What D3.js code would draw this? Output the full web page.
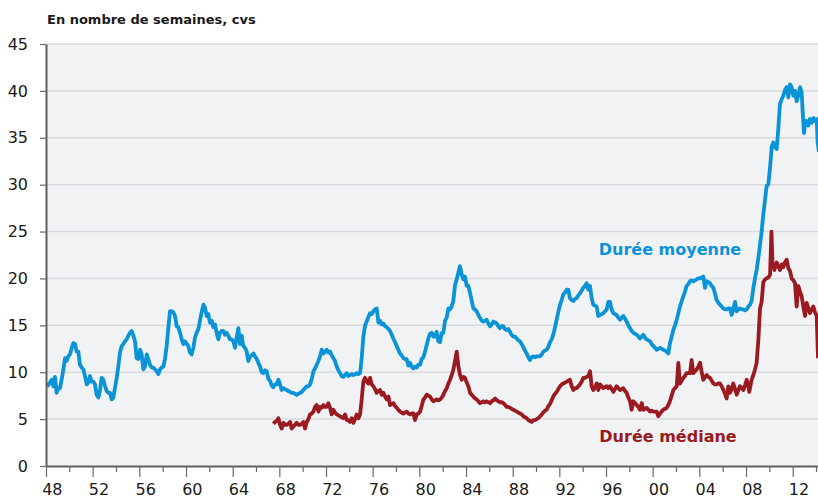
<!DOCTYPE html>
<html><head><meta charset="utf-8">
<script src="https://cdn.jsdelivr.net/npm/d3@7"></script>
<style>body{margin:0;background:#fff}svg{display:block}</style>
</head><body>
<svg id="chart" width="818" height="501"></svg>
<script>
const titleText = "En nombre de semaines, cvs";
const yTickValues = [0,5,10,15,20,25,30,35,40,45];
const xTickYears = d3.range(1948, 2015, 2);
const xLabelYears = d3.range(1948, 2013, 4);
const meanLabel = "Durée moyenne";
const medianLabel = "Durée médiane";

// Durée moyenne (weeks) [decimal year, value]
const meanData = [
[1948.00,8.7],[1948.17,8.6],[1948.34,8.9],[1948.49,9.2],[1948.63,8.5],[1948.77,9.5],[1948.91,7.8],
[1949.06,8.3],[1949.20,8.3],[1949.34,9.2],[1949.49,10.3],[1949.63,11.5],[1949.77,11.2],[1949.91,11.7],
[1950.06,11.9],[1950.20,12.6],[1950.34,13.1],[1950.49,13.0],[1950.63,12.2],[1950.77,12.2],[1950.91,10.8],
[1951.06,10.5],[1951.20,10.3],[1951.34,9.6],[1951.49,8.7],[1951.63,8.9],[1951.77,9.6],[1951.91,9.0],
[1952.06,9.0],[1952.20,8.7],[1952.34,7.6],[1952.49,7.3],[1952.63,8.1],[1952.77,9.4],[1952.91,9.2],
[1953.06,8.5],[1953.20,8.0],[1953.34,7.8],[1953.49,7.8],[1953.63,7.1],[1953.77,7.3],[1953.91,8.3],
[1954.06,9.4],[1954.20,10.6],[1954.34,12.1],[1954.49,12.8],[1954.63,13.0],[1954.77,13.3],[1954.91,13.5],
[1955.06,13.9],[1955.20,14.2],[1955.34,14.4],[1955.49,13.9],[1955.63,13.3],[1955.77,11.5],[1955.91,11.4],
[1956.06,12.4],[1956.20,11.9],[1956.34,10.3],[1956.49,10.6],[1956.63,11.9],[1956.77,11.4],[1956.91,10.8],
[1957.06,10.5],[1957.20,10.5],[1957.34,10.3],[1957.49,10.1],[1957.63,9.8],[1957.77,10.3],[1957.91,10.5],
[1958.06,10.6],[1958.20,11.4],[1958.34,12.8],[1958.49,14.8],[1958.63,16.5],[1958.77,16.5],[1958.91,16.4],
[1959.06,16.0],[1959.20,14.9],[1959.34,14.8],[1959.49,14.2],[1959.63,13.5],[1959.77,13.0],[1959.91,13.3],
[1960.06,13.0],[1960.20,12.8],[1960.34,12.1],[1960.49,11.9],[1960.63,12.6],[1960.77,13.7],[1960.91,14.2],
[1961.06,14.6],[1961.20,15.5],[1961.34,16.4],[1961.49,17.2],[1961.63,16.9],[1961.77,16.0],[1961.91,16.2],
[1962.06,15.3],[1962.20,15.5],[1962.34,14.8],[1962.49,15.1],[1962.63,14.2],[1962.77,13.5],[1962.91,14.2],
[1963.06,14.4],[1963.20,14.4],[1963.34,14.0],[1963.49,14.2],[1963.63,13.9],[1963.77,13.5],[1963.91,13.5],
[1964.06,13.3],[1964.20,12.6],[1964.34,13.7],[1964.49,14.7],[1964.63,13.0],[1964.77,13.9],[1964.91,12.8],
[1965.06,12.6],[1965.20,12.2],[1965.34,11.2],[1965.49,11.7],[1965.63,11.8],[1965.78,12.0],[1965.91,11.7],
[1966.06,11.4],[1966.20,11.0],[1966.35,10.6],[1966.49,10.0],[1966.63,9.9],[1966.77,10.2],[1966.92,10.1],
[1967.06,9.3],[1967.20,9.1],[1967.34,8.6],[1967.49,8.4],[1967.63,8.7],[1967.78,8.7],[1967.92,9.2],
[1968.06,8.7],[1968.20,8.1],[1968.35,8.3],[1968.49,8.2],[1968.63,8.1],[1968.78,8.0],[1968.92,7.9],
[1969.06,7.8],[1969.20,7.8],[1969.35,7.7],[1969.49,7.6],[1969.63,7.7],[1969.78,7.8],[1969.92,7.9],
[1970.06,8.1],[1970.20,8.3],[1970.35,8.5],[1970.49,8.5],[1970.63,8.7],[1970.78,9.3],[1970.92,10.1],
[1971.06,10.4],[1971.20,10.8],[1971.35,11.2],[1971.49,11.7],[1971.63,12.4],[1971.78,12.0],[1971.92,12.2],
[1972.06,12.4],[1972.20,12.1],[1972.35,12.2],[1972.49,11.8],[1972.63,11.5],[1972.77,11.2],[1972.92,10.6],
[1973.06,10.2],[1973.20,9.9],[1973.34,9.6],[1973.49,9.5],[1973.63,9.7],[1973.78,9.9],[1973.92,9.6],
[1974.06,9.7],[1974.20,9.8],[1974.35,9.7],[1974.49,9.8],[1974.63,9.9],[1974.78,9.8],[1974.92,9.9],
[1975.06,11.5],[1975.20,13.8],[1975.35,15.0],[1975.49,15.4],[1975.63,15.9],[1975.78,16.3],[1975.92,16.2],
[1976.06,16.5],[1976.20,16.7],[1976.35,16.8],[1976.49,15.3],[1976.63,15.5],[1976.77,15.1],[1976.91,15.2],
[1977.06,14.9],[1977.20,14.8],[1977.35,14.6],[1977.49,14.4],[1977.63,14.0],[1977.77,13.6],[1977.92,13.2],
[1978.06,12.8],[1978.20,12.4],[1978.34,12.0],[1978.49,11.8],[1978.63,11.5],[1978.77,11.4],[1978.91,11.4],
[1979.06,10.7],[1979.20,11.0],[1979.34,10.6],[1979.49,10.4],[1979.63,10.6],[1979.77,10.5],[1979.91,10.8],
[1980.06,10.8],[1980.20,11.4],[1980.35,11.6],[1980.49,12.2],[1980.63,12.9],[1980.77,13.6],[1980.91,14.1],
[1981.06,14.2],[1981.20,13.8],[1981.34,13.8],[1981.48,14.3],[1981.63,13.3],[1981.77,13.2],[1981.92,14.2],
[1982.06,14.2],[1982.20,15.5],[1982.34,15.8],[1982.49,16.8],[1982.63,16.7],[1982.77,17.0],[1982.91,17.6],
[1983.06,19.3],[1983.20,19.9],[1983.34,20.6],[1983.48,21.3],[1983.63,20.4],[1983.77,19.9],[1983.91,20.2],
[1984.06,19.2],[1984.20,19.2],[1984.34,18.5],[1984.49,17.6],[1984.63,16.8],[1984.77,16.7],[1984.91,16.5],
[1985.06,16.1],[1985.20,15.8],[1985.34,15.5],[1985.48,15.4],[1985.63,15.5],[1985.77,15.6],[1985.91,15.2],
[1986.06,14.9],[1986.20,15.1],[1986.34,15.4],[1986.49,15.3],[1986.63,15.2],[1986.77,14.9],[1986.91,14.7],
[1987.06,14.9],[1987.20,14.9],[1987.34,14.6],[1987.48,14.5],[1987.63,14.6],[1987.77,14.3],[1987.91,14.0],
[1988.06,13.8],[1988.20,13.8],[1988.34,13.6],[1988.49,13.4],[1988.63,13.3],[1988.77,13.0],[1988.91,12.7],
[1989.06,12.3],[1989.20,12.0],[1989.34,11.6],[1989.48,11.3],[1989.63,11.6],[1989.77,11.7],[1989.91,11.6],
[1990.06,11.7],[1990.20,11.7],[1990.34,11.7],[1990.49,11.9],[1990.63,12.2],[1990.77,12.3],[1990.91,12.4],
[1991.06,12.7],[1991.20,13.2],[1991.34,13.5],[1991.48,14.0],[1991.63,14.8],[1991.77,15.6],[1991.91,16.4],
[1992.06,17.2],[1992.20,17.7],[1992.34,18.3],[1992.49,18.5],[1992.63,18.8],[1992.77,18.8],[1992.91,17.9],
[1993.06,17.7],[1993.20,17.6],[1993.34,17.8],[1993.48,17.9],[1993.63,18.2],[1993.77,18.4],[1993.91,18.7],
[1994.06,19.0],[1994.20,19.2],[1994.34,19.5],[1994.48,18.8],[1994.63,19.2],[1994.77,17.9],[1994.91,17.2],
[1995.06,17.1],[1995.20,17.0],[1995.34,16.0],[1995.48,16.1],[1995.63,16.2],[1995.77,16.3],[1995.91,16.5],
[1996.06,16.7],[1996.20,17.5],[1996.34,17.5],[1996.48,16.7],[1996.63,16.3],[1996.77,16.2],[1996.91,16.1],
[1997.06,15.8],[1997.20,15.6],[1997.34,15.8],[1997.48,16.0],[1997.63,15.7],[1997.77,15.4],[1997.91,15.0],
[1998.06,14.7],[1998.20,14.4],[1998.34,14.2],[1998.49,14.1],[1998.63,14.0],[1998.77,13.8],[1998.91,13.6],
[1999.06,13.8],[1999.20,14.0],[1999.34,13.7],[1999.48,13.5],[1999.63,13.4],[1999.77,13.3],[1999.91,13.0],
[2000.06,12.8],[2000.20,12.6],[2000.34,12.4],[2000.49,12.5],[2000.63,12.6],[2000.77,12.5],[2000.91,12.4],
[2001.06,12.3],[2001.20,12.2],[2001.34,12.0],[2001.48,13.1],[2001.63,13.8],[2001.77,14.5],[2001.91,15.0],
[2002.06,15.6],[2002.20,16.3],[2002.34,17.0],[2002.49,17.6],[2002.63,18.1],[2002.77,18.6],[2002.91,19.2],
[2003.06,19.4],[2003.20,19.7],[2003.34,19.8],[2003.48,19.7],[2003.63,19.8],[2003.77,19.9],[2003.91,20.0],
[2004.06,20.0],[2004.20,20.1],[2004.34,20.2],[2004.48,19.0],[2004.63,19.7],[2004.77,19.6],[2004.91,19.5],
[2005.06,19.2],[2005.20,19.0],[2005.34,18.4],[2005.48,17.7],[2005.63,17.4],[2005.77,17.2],[2005.91,17.0],
[2006.06,16.8],[2006.20,16.7],[2006.34,16.7],[2006.48,16.8],[2006.63,16.8],[2006.77,16.1],[2006.91,16.7],
[2007.06,17.5],[2007.20,16.5],[2007.34,16.7],[2007.48,16.8],[2007.63,16.7],[2007.77,16.7],[2007.91,16.6],
[2008.06,16.7],[2008.20,17.0],[2008.34,17.2],[2008.48,17.6],[2008.63,19.0],[2008.77,20.0],[2008.91,20.9],
[2009.06,22.2],[2009.20,23.6],[2009.34,25.0],[2009.48,26.8],[2009.63,28.4],[2009.77,29.9],[2009.91,30.0],
[2010.06,31.8],[2010.20,34.0],[2010.34,34.5],[2010.48,34.0],[2010.63,33.8],[2010.77,36.0],[2010.91,38.6],
[2011.06,39.1],[2011.20,39.5],[2011.34,40.1],[2011.48,40.4],[2011.63,39.3],[2011.77,40.7],[2011.91,40.4],
[2012.06,39.5],[2012.20,40.0],[2012.34,38.9],[2012.48,39.5],[2012.63,40.4],[2012.77,39.8],[2012.86,37.7],
[2012.97,35.5],[2013.06,36.5],[2013.14,36.8],[2013.34,36.3],[2013.48,37.0],[2013.63,36.6],[2013.77,37.1],
[2013.91,36.8],[2014.06,37.0],[2014.14,34.5],[2014.25,33.5]
];

// Durée médiane (weeks) [decimal year, value]
const medianData = [
[1967.49,4.5],[1967.63,4.7],[1967.78,4.8],[1967.92,5.1],
[1968.06,4.4],[1968.20,4.0],[1968.35,4.6],[1968.49,4.4],[1968.63,4.4],[1968.78,4.5],[1968.92,4.7],
[1969.06,4.0],[1969.20,4.2],[1969.35,4.4],[1969.49,4.6],[1969.63,4.4],[1969.78,4.4],[1969.92,4.5],
[1970.06,4.7],[1970.20,4.0],[1970.35,4.7],[1970.49,5.0],[1970.63,5.5],[1970.78,5.6],[1970.92,5.8],
[1971.06,6.3],[1971.20,6.5],[1971.35,5.8],[1971.49,6.3],[1971.63,6.2],[1971.78,6.5],[1971.92,6.3],
[1972.06,6.3],[1972.20,6.7],[1972.35,6.2],[1972.49,5.5],[1972.63,6.0],[1972.77,5.7],[1972.92,5.5],
[1973.06,5.4],[1973.20,5.3],[1973.34,5.2],[1973.49,5.1],[1973.63,5.5],[1973.78,4.9],[1973.92,4.9],
[1974.06,4.7],[1974.20,5.1],[1974.35,4.6],[1974.49,5.0],[1974.63,5.5],[1974.78,5.1],[1974.92,5.5],
[1975.06,7.1],[1975.20,9.0],[1975.35,9.4],[1975.49,9.0],[1975.63,8.8],[1975.78,9.4],[1975.92,8.7],
[1976.06,8.5],[1976.20,8.2],[1976.35,7.8],[1976.49,8.0],[1976.63,8.1],[1976.78,7.6],[1976.92,7.8],
[1977.06,7.4],[1977.20,7.1],[1977.35,7.4],[1977.49,6.5],[1977.63,6.6],[1977.78,6.7],[1977.92,6.4],
[1978.06,6.2],[1978.20,6.0],[1978.35,5.8],[1978.49,5.7],[1978.63,5.6],[1978.78,5.7],[1978.92,5.8],
[1979.06,5.6],[1979.20,5.5],[1979.35,5.6],[1979.49,5.6],[1979.63,4.9],[1979.78,5.5],[1979.92,5.6],
[1980.06,5.8],[1980.20,6.4],[1980.35,7.1],[1980.49,7.3],[1980.63,7.6],[1980.78,7.5],[1980.92,7.4],
[1981.06,7.1],[1981.20,6.9],[1981.35,7.0],[1981.49,7.1],[1981.63,7.0],[1981.78,7.1],[1981.92,7.3],
[1982.06,7.6],[1982.20,8.0],[1982.35,8.3],[1982.49,8.8],[1982.63,9.2],[1982.78,9.7],[1982.92,10.3],
[1983.06,11.2],[1983.20,12.2],[1983.35,10.6],[1983.49,9.7],[1983.63,9.2],[1983.78,9.5],[1983.92,9.4],
[1984.06,8.9],[1984.20,8.5],[1984.35,7.8],[1984.49,7.6],[1984.63,7.4],[1984.78,7.2],[1984.92,7.1],
[1985.06,6.9],[1985.20,6.7],[1985.35,6.8],[1985.49,6.9],[1985.63,6.8],[1985.78,6.9],[1985.92,6.8],
[1986.06,6.7],[1986.20,6.9],[1986.35,7.0],[1986.49,7.2],[1986.63,7.0],[1986.78,6.9],[1986.92,6.8],
[1987.06,6.8],[1987.20,6.7],[1987.35,6.5],[1987.49,6.3],[1987.63,6.3],[1987.78,6.2],[1987.92,6.1],
[1988.06,6.0],[1988.20,5.9],[1988.35,5.8],[1988.49,5.7],[1988.63,5.6],[1988.78,5.5],[1988.92,5.3],
[1989.06,5.2],[1989.20,5.1],[1989.35,4.9],[1989.49,4.8],[1989.63,4.7],[1989.78,4.9],[1989.92,4.9],
[1990.06,5.0],[1990.20,5.1],[1990.35,5.3],[1990.49,5.5],[1990.63,5.7],[1990.78,5.9],[1990.91,6.0],
[1991.06,6.4],[1991.20,6.6],[1991.34,7.0],[1991.48,7.4],[1991.63,7.7],[1991.77,7.9],[1991.91,8.2],
[1992.06,8.5],[1992.20,8.7],[1992.34,8.8],[1992.49,8.9],[1992.63,9.0],[1992.77,9.1],[1992.91,9.2],
[1993.06,8.5],[1993.20,8.1],[1993.34,8.3],[1993.48,8.3],[1993.63,8.5],[1993.77,8.7],[1993.91,9.0],
[1994.06,9.4],[1994.20,9.4],[1994.34,9.5],[1994.49,9.6],[1994.63,10.1],[1994.77,8.5],[1994.91,8.1],
[1995.06,8.4],[1995.20,8.8],[1995.34,8.1],[1995.48,8.7],[1995.63,8.5],[1995.77,8.3],[1995.91,8.4],
[1996.06,8.5],[1996.20,8.3],[1996.34,8.5],[1996.49,8.2],[1996.63,7.9],[1996.77,8.2],[1996.91,8.5],
[1997.06,8.3],[1997.20,8.1],[1997.34,8.2],[1997.48,8.3],[1997.63,8.0],[1997.77,7.8],[1997.91,7.3],
[1998.06,6.9],[1998.20,6.0],[1998.34,6.9],[1998.49,6.7],[1998.63,6.5],[1998.77,6.3],[1998.91,6.0],
[1999.06,6.7],[1999.20,6.0],[1999.34,6.1],[1999.48,6.2],[1999.63,6.0],[1999.77,5.8],[1999.91,5.9],
[2000.06,5.8],[2000.20,5.8],[2000.34,5.8],[2000.48,5.3],[2000.63,5.6],[2000.77,5.8],[2000.91,6.0],
[2001.06,6.1],[2001.20,6.2],[2001.34,6.5],[2001.48,6.9],[2001.63,7.5],[2001.77,8.1],[2001.91,8.3],
[2002.06,8.5],[2002.20,11.0],[2002.34,8.8],[2002.49,9.1],[2002.63,9.4],[2002.77,9.6],[2002.91,9.9],
[2003.06,9.9],[2003.20,9.9],[2003.34,11.3],[2003.48,9.9],[2003.63,10.1],[2003.77,10.3],[2003.91,10.6],
[2004.06,11.0],[2004.20,10.0],[2004.34,9.2],[2004.49,9.5],[2004.63,9.7],[2004.77,9.5],[2004.91,9.4],
[2005.06,9.1],[2005.20,8.8],[2005.34,8.7],[2005.48,8.7],[2005.63,8.8],[2005.77,8.8],[2005.91,8.5],
[2006.06,8.1],[2006.20,7.7],[2006.34,7.2],[2006.48,8.5],[2006.63,7.8],[2006.77,8.2],[2006.91,8.8],
[2007.06,8.2],[2007.20,7.6],[2007.34,8.1],[2007.48,8.5],[2007.63,8.3],[2007.77,8.1],[2007.91,8.6],
[2008.06,9.2],[2008.20,8.5],[2008.28,7.9],[2008.48,9.2],[2008.63,9.7],[2008.77,10.3],[2008.91,11.0],
[2009.06,13.5],[2009.20,16.8],[2009.34,17.5],[2009.48,19.6],[2009.63,19.9],[2009.77,20.0],[2009.91,20.1],
[2010.06,20.4],[2010.18,25.0],[2010.28,21.2],[2010.35,21.5],[2010.43,20.9],[2010.63,21.7],[2010.77,21.3],
[2010.91,20.9],[2011.06,21.5],[2011.20,21.2],[2011.34,21.7],[2011.48,22.0],[2011.63,21.1],[2011.77,20.8],
[2011.91,20.0],[2012.06,19.8],[2012.20,19.5],[2012.34,17.0],[2012.48,19.2],[2012.63,18.6],[2012.77,18.1],
[2012.91,17.0],[2013.06,16.0],[2013.20,17.4],[2013.34,16.8],[2013.48,16.3],[2013.63,16.7],[2013.77,17.0],
[2013.91,16.4],[2014.06,16.0],[2014.17,11.5]
];

const svg = d3.select("#chart");
const L = 46, R = 818, T = 44, B = 466;
const x = d3.scaleLinear().domain([1948, 2014.17]).range([L, R]);
const y = d3.scaleLinear().domain([0, 45]).range([B, T]);
const FONT = "'DejaVu Sans', Verdana, sans-serif";

svg.append("rect").attr("x", L).attr("y", T).attr("width", R - L).attr("height", B - T).attr("fill", "#f1f2f4");

// gridlines
svg.append("g").selectAll("line").data(yTickValues.filter(v => v > 0)).join("line")
  .attr("x1", L).attr("x2", R).attr("y1", d => y(d)).attr("y2", d => y(d))
  .attr("stroke", "#d9dadd").attr("stroke-width", 1.5);

// clip
svg.append("clipPath").attr("id", "clip").append("rect")
  .attr("x", L).attr("y", 0).attr("width", R - L).attr("height", B);

const line = d3.line().x(d => x(d[0])).y(d => y(d[1]));
const lines = svg.append("g").attr("clip-path", "url(#clip)");
lines.append("path").datum(meanData).attr("d", line).attr("fill", "none")
  .attr("stroke", "#0a93d6").attr("stroke-width", 3.8).attr("stroke-linejoin", "round").attr("stroke-linecap", "butt");
lines.append("path").datum(medianData).attr("d", line).attr("fill", "none")
  .attr("stroke", "#9a1a20").attr("stroke-width", 3.8).attr("stroke-linejoin", "round").attr("stroke-linecap", "butt");

// y axis
const yAxis = svg.append("g").attr("transform", `translate(${L},0)`)
  .call(d3.axisLeft(y).tickValues(yTickValues).tickSize(6).tickSizeOuter(0).tickPadding(12));
yAxis.select(".domain").attr("stroke", "#5f5f5f").attr("stroke-width", 2);
yAxis.selectAll(".tick line").attr("stroke", "#6a6a6a").attr("stroke-width", 1.2);
yAxis.selectAll(".tick text").attr("font-family", FONT).attr("font-size", 16).attr("fill", "#1a1a1a");

// x axis ticks
const xAxis = svg.append("g").attr("transform", `translate(0,${B})`)
  .call(d3.axisBottom(x).tickValues(xTickYears).tickSize(11).tickSizeOuter(0).tickFormat(""));
xAxis.select(".domain").attr("stroke", "#5f5f5f").attr("stroke-width", 2);
xAxis.selectAll(".tick line").attr("stroke", "#6a6a6a").attr("stroke-width", 1.2)
  .attr("y2", d => ((d - 1948) % 4 === 0) ? 11 : 6);

// x labels (centered at mid-year)
const xLab = svg.append("g").attr("transform", `translate(0,${B})`)
  .call(d3.axisBottom(x).tickValues(xLabelYears.map(v => v + 0.5)).tickSize(0).tickPadding(18)
    .tickFormat(d => String(Math.floor(d) % 100).padStart(2, "0")));
xLab.select(".domain").remove();
xLab.selectAll(".tick text").attr("font-family", FONT).attr("font-size", 16).attr("fill", "#1a1a1a");

// title
svg.append("text").attr("x", 47).attr("y", 24).text(titleText)
  .attr("font-family", FONT).attr("font-weight", "bold").attr("font-size", 13).attr("fill", "#1a1a1a");

// series labels
svg.append("text").attr("x", 670).attr("y", 255).attr("text-anchor", "middle").text(meanLabel)
  .attr("font-family", FONT).attr("font-weight", "bold").attr("font-size", 16).attr("fill", "#0a93d6");
svg.append("text").attr("x", 668).attr("y", 442).attr("text-anchor", "middle").text(medianLabel)
  .attr("font-family", FONT).attr("font-weight", "bold").attr("font-size", 16).attr("fill", "#9a1a20");
</script>
</body></html>
